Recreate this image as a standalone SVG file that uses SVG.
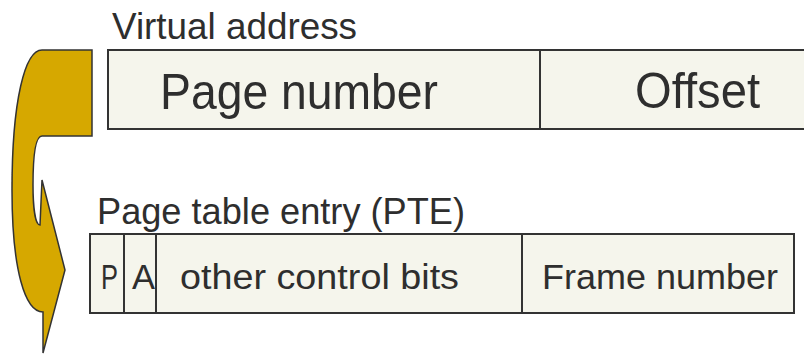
<svg xmlns="http://www.w3.org/2000/svg" width="804" height="355" viewBox="0 0 804 355">
<style>
.box{fill:#F5F5EC;stroke:#333333;stroke-width:2}
.div{stroke:#333333;stroke-width:2}
text{font-family:"Liberation Sans",Arial,sans-serif;fill:#2E2E2E}
.big{font-size:50px}
.mid{font-size:36px}
.sm{font-size:35px}
</style>
<rect width="804" height="355" fill="#FFFFFF"/>
<g id="connectors">
<path d="M 92 50 L 92 136 L 42 136 C 35 136 33 160 33 185 C 33 205 35 225 40 225 L 42 180 L 65 270 L 43 353 L 43 312 C 25 312 12 270 12 190 C 12 100 25 50 42 50 Z" fill="#D6A800" stroke="#333333" stroke-width="1.5" stroke-linejoin="miter"/>
</g>
<g id="virtual-address">
<text class="mid" x="112" y="39" textLength="245" lengthAdjust="spacingAndGlyphs">Virtual address</text>
<rect class="box" x="108" y="50" width="710" height="79"/>
<line class="div" x1="540" y1="50" x2="540" y2="129"/>
<text class="big" x="160" y="109" textLength="278" lengthAdjust="spacingAndGlyphs">Page number</text>
<text class="big" x="635" y="108" textLength="125" lengthAdjust="spacingAndGlyphs">Offset</text>
</g>
<g id="pte">
<text class="mid" x="97" y="224" textLength="368" lengthAdjust="spacingAndGlyphs">Page table entry (PTE)</text>
<rect class="box" x="90" y="234" width="704" height="79"/>
<line class="div" x1="124" y1="234" x2="124" y2="313"/>
<line class="div" x1="156" y1="234" x2="156" y2="313"/>
<line class="div" x1="522" y1="234" x2="522" y2="313"/>
<text class="sm" x="101" y="289" textLength="17" lengthAdjust="spacingAndGlyphs">P</text>
<text class="sm" x="132" y="289" textLength="23" lengthAdjust="spacingAndGlyphs">A</text>
<text class="sm" x="180" y="289" textLength="279" lengthAdjust="spacingAndGlyphs">other control bits</text>
<text class="sm" x="542" y="289" textLength="236" lengthAdjust="spacingAndGlyphs">Frame number</text>
</g>
</svg>
